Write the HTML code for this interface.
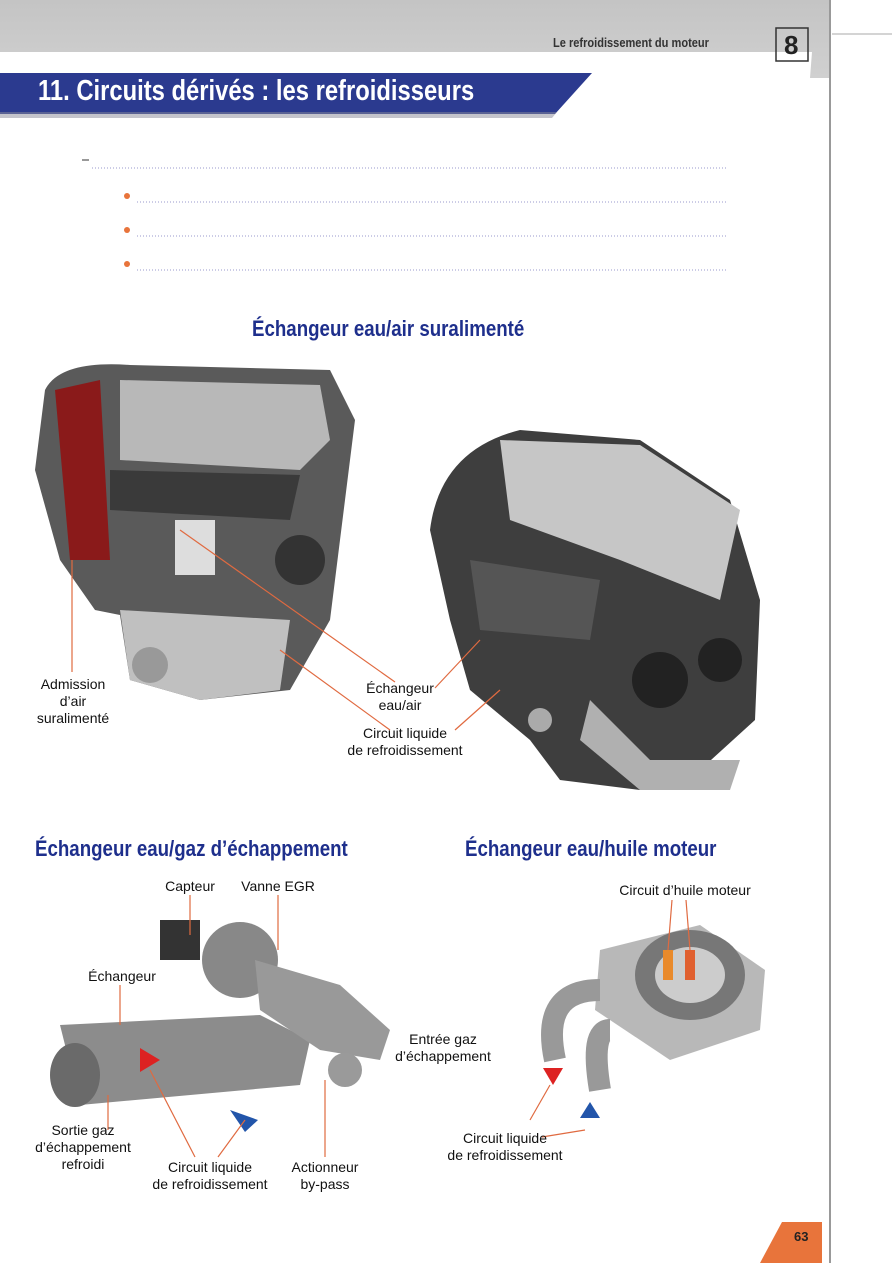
<!DOCTYPE html>
<html><head><meta charset="utf-8"><style>
body{margin:0;width:892px;height:1263px;background:#fff;position:relative;overflow:hidden;font-family:"Liberation Sans",sans-serif}
.a{position:absolute}
.lbl{position:absolute;font-size:14px;color:#111;text-align:center;line-height:17px}
.h2{position:absolute;font-family:"Liberation Sans Narrow","Liberation Sans",sans-serif;font-weight:bold;color:#1e2f8c;font-size:22px;transform:scaleX(.85);transform-origin:left}
</style></head><body>
<svg class="a" style="left:0;top:0" width="892" height="1263">
<defs><linearGradient id="g" x1="0" y1="0" x2="0" y2="1"><stop offset="0" stop-color="#c4c4c4"/><stop offset="1" stop-color="#d0d0d0"/></linearGradient></defs>
<polygon points="0,0 830,0 830,78 810,78 812,52 0,52" fill="url(#g)"/>
<line x1="830" y1="0" x2="830" y2="1263" stroke="#999" stroke-width="2"/>
<line x1="832" y1="34" x2="892" y2="34" stroke="#aaa"/>
<rect x="776" y="28" width="32" height="33" fill="none" stroke="#333" stroke-width="1.5"/>
<polygon points="0,73 592,73 555,114 0,114" fill="#2b3a8f"/>
<polygon points="0,112 557,112 552,118 0,118" fill="#8a8a9a" opacity=".5"/>
<line x1="92" y1="168" x2="728" y2="168" stroke="#99c" stroke-dasharray="1 2"/>
<line x1="137" y1="202" x2="728" y2="202" stroke="#99c" stroke-dasharray="1 2"/>
<line x1="137" y1="236" x2="728" y2="236" stroke="#99c" stroke-dasharray="1 2"/>
<line x1="137" y1="270" x2="728" y2="270" stroke="#99c" stroke-dasharray="1 2"/>
<line x1="82" y1="160" x2="89" y2="160" stroke="#333"/>
<circle cx="127" cy="196" r="3" fill="#e8743b"/><circle cx="127" cy="230" r="3" fill="#e8743b"/><circle cx="127" cy="264" r="3" fill="#e8743b"/>
<!-- engine 1 -->
<path d="M45,390 Q60,360 130,365 L330,370 L355,420 L340,540 L330,620 L290,690 L200,700 L130,680 L120,615 L95,610 L60,560 L35,470 Z" fill="#5a5a5a"/>
<path d="M120,380 L320,385 L330,440 L300,470 L120,460 Z" fill="#b8b8b8"/>
<path d="M110,470 L300,475 L290,520 L110,510 Z" fill="#3a3a3a"/>
<path d="M120,610 L290,620 L280,690 L200,700 L130,680 Z" fill="#c0c0c0"/>
<path d="M55,390 L100,380 L110,560 L70,560 Z" fill="#8a1a1a"/>
<rect x="175" y="520" width="40" height="55" fill="#ddd"/>
<circle cx="150" cy="665" r="18" fill="#999"/>
<circle cx="300" cy="560" r="25" fill="#333"/>
<!-- engine 2 -->
<path d="M430,530 Q440,450 520,430 L640,440 L730,500 L760,600 L755,720 L700,770 L640,790 L560,780 L530,740 L470,690 L450,620 Z" fill="#3e3e3e"/>
<path d="M500,440 L640,445 L740,510 L720,600 L620,560 L510,520 Z" fill="#c6c6c6"/>
<path d="M470,560 L600,580 L590,640 L480,630 Z" fill="#555"/>
<path d="M590,700 L650,760 L740,760 L730,790 L640,790 L580,740 Z" fill="#b0b0b0"/>
<circle cx="660" cy="680" r="28" fill="#222"/><circle cx="720" cy="660" r="22" fill="#222"/>
<circle cx="540" cy="720" r="12" fill="#aaa"/>
<!-- EGR -->
<path d="M60,1025 L260,1015 L310,1040 L300,1085 L80,1105 Z" fill="#8c8c8c"/>
<ellipse cx="75" cy="1075" rx="25" ry="32" fill="#6a6a6a"/>
<circle cx="240" cy="960" r="38" fill="#888"/>
<path d="M255,960 L340,985 L390,1030 L380,1060 L320,1050 L260,1010 Z" fill="#999"/>
<rect x="160" y="920" width="40" height="40" fill="#333"/>
<circle cx="345" cy="1070" r="17" fill="#9a9a9a"/>
<path d="M140,1048 L160,1060 L140,1072 Z" fill="#d22"/>
<path d="M230,1110 L258,1120 L245,1132 Z" fill="#2255aa"/>
<!-- oil cooler -->
<path d="M600,950 L700,925 L765,970 L760,1030 L670,1060 L595,1010 Z" fill="#b8b8b8"/>
<ellipse cx="690" cy="975" rx="55" ry="45" fill="#777"/>
<ellipse cx="690" cy="975" rx="35" ry="28" fill="#ccc"/>
<path d="M600,990 Q540,990 555,1060" stroke="#999" stroke-width="22" fill="none"/>
<path d="M610,1030 Q590,1030 600,1090" stroke="#999" stroke-width="22" fill="none"/>
<rect x="663" y="950" width="10" height="30" fill="#e98a2b"/><rect x="685" y="950" width="10" height="30" fill="#e06030"/>
<path d="M543,1068 L563,1068 L553,1085 Z" fill="#d22"/><path d="M580,1118 L600,1118 L590,1102 Z" fill="#2255aa"/>
<!-- leaders -->
<g stroke="#e06a40" stroke-width="1.2" fill="none">
<line x1="72" y1="672" x2="72" y2="560"/>
<line x1="395" y1="682" x2="180" y2="530"/>
<line x1="435" y1="688" x2="480" y2="640"/>
<line x1="455" y1="730" x2="500" y2="690"/>
<line x1="390" y1="730" x2="280" y2="650"/>
<line x1="190" y1="895" x2="190" y2="935"/><line x1="278" y1="895" x2="278" y2="950"/>
<line x1="120" y1="985" x2="120" y2="1025"/>
<line x1="108" y1="1130" x2="108" y2="1095"/>
<line x1="195" y1="1157" x2="150" y2="1070"/>
<line x1="218" y1="1157" x2="245" y2="1120"/>
<line x1="325" y1="1157" x2="325" y2="1080"/>
<line x1="672" y1="900" x2="668" y2="950"/><line x1="686" y1="900" x2="690" y2="950"/>
<line x1="530" y1="1120" x2="550" y2="1085"/><line x1="542" y1="1137" x2="585" y2="1130"/>
</g>
<polygon points="782,1222 822,1222 822,1263 760,1263" fill="#e8743b"/>
</svg>
<div class="a" style="left:553px;top:35px;font-size:13px;font-weight:bold;color:#333;transform:scaleX(.85);transform-origin:left">Le refroidissement du moteur</div>
<div class="a" style="left:784px;top:30px;font-size:26px;font-weight:bold;color:#222">8</div>
<div class="a" style="left:38px;top:75px;font-size:29px;font-weight:bold;color:#fff;transform:scaleX(.82);transform-origin:left;white-space:nowrap">11. Circuits dérivés : les refroidisseurs</div>
<div class="h2" style="left:252px;top:316px">Échangeur eau/air suralimenté</div>
<div class="h2" style="left:35px;top:836px">Échangeur eau/gaz d’échappement</div>
<div class="h2" style="left:465px;top:836px">Échangeur eau/huile moteur</div>
<div class="lbl" style="left:28px;top:676px;width:90px">Admission<br>d’air<br>suralimenté</div>
<div class="lbl" style="left:355px;top:680px;width:90px">Échangeur<br>eau/air</div>
<div class="lbl" style="left:335px;top:725px;width:140px">Circuit liquide<br>de refroidissement</div>
<div class="lbl" style="left:160px;top:878px;width:60px">Capteur</div>
<div class="lbl" style="left:238px;top:878px;width:80px">Vanne EGR</div>
<div class="lbl" style="left:82px;top:968px;width:80px">Échangeur</div>
<div class="lbl" style="left:393px;top:1031px;width:100px">Entrée gaz<br>d’échappement</div>
<div class="lbl" style="left:28px;top:1122px;width:110px">Sortie gaz<br>d’échappement<br>refroidi</div>
<div class="lbl" style="left:140px;top:1159px;width:140px">Circuit liquide<br>de refroidissement</div>
<div class="lbl" style="left:280px;top:1159px;width:90px">Actionneur<br>by-pass</div>
<div class="lbl" style="left:605px;top:882px;width:160px">Circuit d’huile moteur</div>
<div class="lbl" style="left:435px;top:1130px;width:140px">Circuit liquide<br>de refroidissement</div>
<div class="a" style="left:794px;top:1229px;font-size:13px;font-weight:bold;color:#222">63</div>
</body></html>
